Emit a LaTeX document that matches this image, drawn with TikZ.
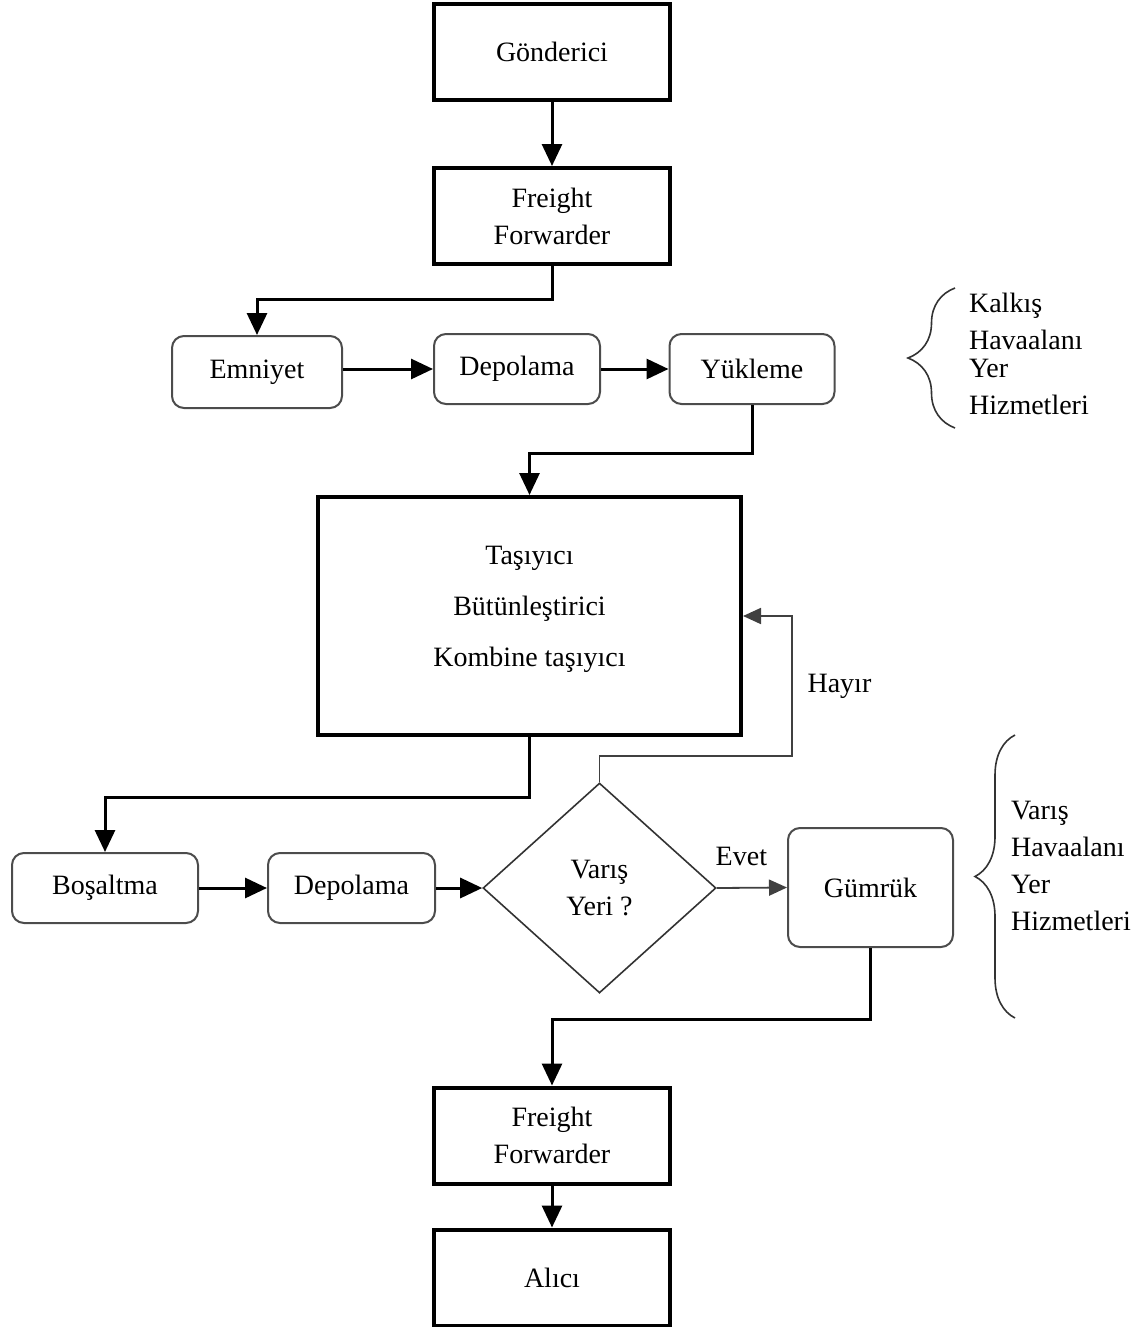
\documentclass[tikz,border=0pt]{standalone}
\usepackage{fontspec}
\setmainfont{Liberation Serif}
\usetikzlibrary{arrows.meta,shapes.geometric,decorations.pathreplacing}

\begin{document}
\begin{tikzpicture}[
  x=0.5pt,
  y=-0.5pt,
  font=\fontsize{14}{18.5}\selectfont,
  box/.style={draw=black, line width=2pt, align=center,
    minimum width=118pt, minimum height=48pt},
  stage/.style={draw=black!70, line width=1pt, rounded corners=6pt,
    align=center, minimum height=35pt},
  decision/.style={diamond, draw=black!80, line width=0.8pt, inner sep=0pt,
    align=center, minimum width=116.5pt, minimum height=105pt},
  flow/.style={draw=black, line width=1.5pt,
    -{Triangle[length=11pt,width=10pt]}},
  thin flow/.style={draw=black!75, line width=0.9pt,
    -{Triangle[length=9pt,width=8pt]}},
  side brace/.style={draw=black!80, line width=0.8pt, decorate,
    decoration={brace, amplitude=#1}},
  side text/.style={anchor=west, align=left}
]
  \path[use as bounding box] (0,0) rectangle (1144,1327);

  % Departure side.
  \node[box] (sender) at (552,52) {Gönderici};
  \node[box] (ffwd1) at (552,216) {Freight\\Forwarder};
  \draw[flow] (sender.south) -- (ffwd1.north);

  \node[stage, minimum width=85pt, minimum height=36pt] (safety) at (257,372) {Emniyet};
  \node[stage, minimum width=83pt] (store1) at (517,369) {Depolama};
  \node[stage, minimum width=82.5pt] (load) at (752,369) {Yükleme};
  \draw[flow] (ffwd1.south) -- ++(0,33) -| (safety.north);
  \draw[flow] (safety.east |- store1) -- (store1.west);
  \draw[flow] (store1.east) -- (load.west);

  \draw[side brace=23.5pt] (955,428) -- (955,288);
  \node[side text] (deptext) at (962,354)
    {Kalkış\\Havaalanı\\[-4.5pt]Yer\\Hizmetleri};

  % Carriers.
  \node[box, minimum width=211.5pt, minimum height=119pt] (carrier) at (529.5,616)
    {Taşıyıcı\\[7pt]Bütünleştirici\\[7pt]Kombine taşıyıcı\\[-8.5pt]};
  \draw[flow] (load.south) -- ++(0,48) -| (carrier.north);

  % Arrival side.
  \node[stage, minimum width=93pt] (unload) at (105,888) {Boşaltma};
  \node[stage, minimum width=83.5pt] (store2) at (351.5,888) {Depolama};
  \node[decision] (dest) at (599.5,888) {Varış\\Yeri ?};
  \node[stage, minimum width=82.5pt, minimum height=59.5pt] (customs) at (870.5,887.5) {Gümrük};
  \draw[flow] (carrier.south) -- ++(0,60) -| (unload.north);
  \draw[flow] (unload.east) -- (store2.west);
  \draw[flow] (store2.east) -- (dest.west);
  \draw[thin flow] (dest.east) --
    node[pos=0.35, above=7pt] (yes) {Evet} (customs.west);
  \draw[thin flow] (dest.north) -- ++(0,-26) -| ([xshift=24.5pt]carrier.east)
    node[pos=0.75, right=4pt] (no) {Hayır} -- (carrier.east);

  \draw[side brace=20pt] (1015,1018) -- (1015,735);
  \node[side text] (arrtext) at (1004,866)
    {Varış\\Havaalanı\\Yer\\Hizmetleri};

  \node[box] (ffwd2) at (552,1135.5) {Freight\\Forwarder};
  \node[box] (receiver) at (552,1277.5) {Alıcı};
  \draw[flow] (customs.south) -- ++(0,71) -| (ffwd2.north);
  \draw[flow] (ffwd2.south) -- (receiver.north);
\end{tikzpicture}
\end{document}
